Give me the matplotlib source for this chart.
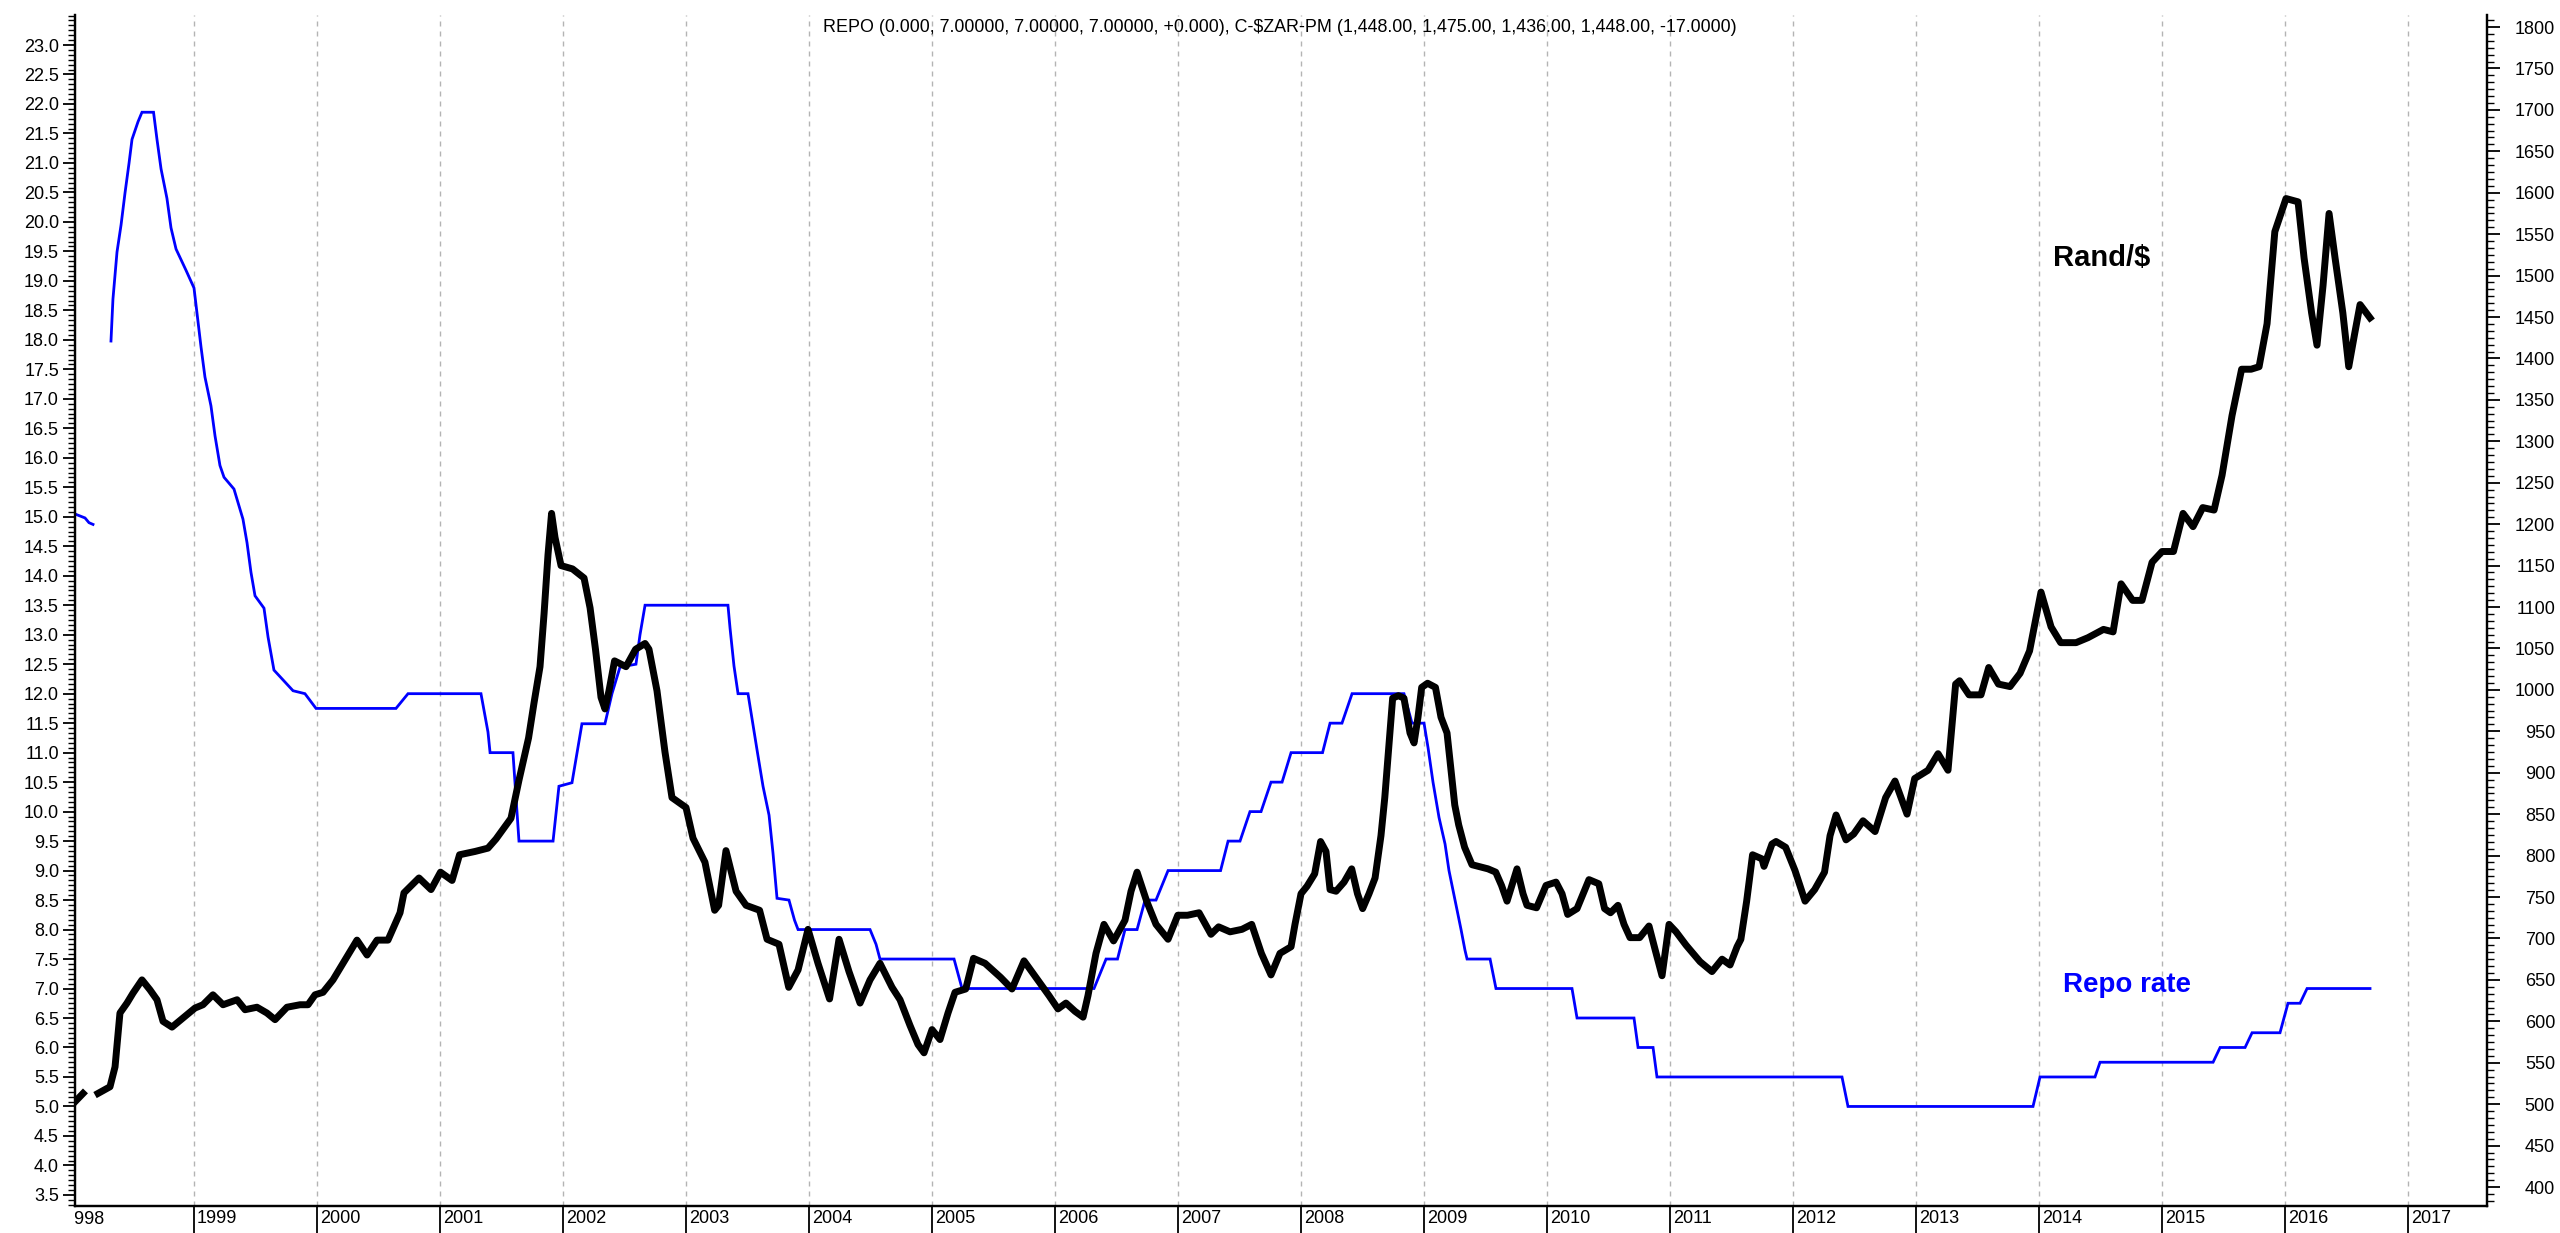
import matplotlib
matplotlib.use('Agg')
import matplotlib.pyplot as plt
import numpy as np
from matplotlib.ticker import MultipleLocator, FixedLocator, FormatStrFormatter
from matplotlib.transforms import ScaledTranslation, Bbox, TransformedBbox

plt.rcParams['font.family'] = ['Liberation Sans', 'DejaVu Sans']
plt.rcParams['lines.scale_dashes'] = False

nan = np.nan

# repo rate (%), left axis; dates as decimal years, nan = gap in the data
repo_t = [1998.041, 1998.114, 1998.146, 1998.179, nan,
          1998.325, 1998.341, 1998.374, 1998.407, 1998.439, 1998.472, 1998.496, 1998.545, 1998.577, 1998.671, 1998.699, 1998.732, 1998.780, 1998.813, 1998.854, 1998.935,
          1999.000, 1999.028, 1999.057, 1999.089, 1999.138, 1999.171, 1999.211, 1999.244, 1999.325, 1999.398, 1999.431, 1999.463, 1999.496, 1999.569, 1999.602, 1999.650, 1999.805, 1999.902, 1999.992,
          2000.642, 2000.740, 2001.333, 2001.390, 2001.407, 2001.593, 2001.642, 2001.919, 2001.967,
          2002.073, 2002.154, 2002.341, 2002.398, 2002.463, 2002.593, 2002.626, 2002.667,
          2003.341, 2003.358, 2003.390, 2003.423, 2003.504, 2003.537, 2003.581, 2003.626, 2003.675, 2003.707, 2003.740, 2003.837, 2003.882, 2003.911,
          2004.496, 2004.545, 2004.577, 2005.179, 2005.244,
          2006.317, 2006.415, 2006.508, 2006.569, 2006.667, 2006.732, 2006.821, 2006.919,
          2007.346, 2007.407, 2007.504, 2007.585, 2007.675, 2007.756, 2007.846, 2007.919,
          2008.175, 2008.236, 2008.333, 2008.415, 2008.837, 2008.902, 2009.000, 2009.033, 2009.073, 2009.122, 2009.171, 2009.203, 2009.252, 2009.301, 2009.333, 2009.350, 2009.537, 2009.585,
          2010.203, 2010.244, 2010.707, 2010.740, 2010.862, 2010.894,
          2012.398, 2012.447, 2013.951, 2014.008, 2014.455, 2014.496, 2015.415, 2015.472, 2015.675, 2015.732, 2015.959, 2016.024, 2016.122, 2016.179, 2016.691]
repo_v = [15.04, 14.98, 14.90, 14.87, nan,
          17.98, 18.69, 19.49, 19.95, 20.49, 21.00, 21.40, 21.70, 21.86, 21.86, 21.40, 20.90, 20.40, 19.90, 19.54, 19.18,
          18.88, 18.39, 17.88, 17.37, 16.88, 16.37, 15.87, 15.67, 15.47, 14.96, 14.56, 14.06, 13.66, 13.45, 12.96, 12.40, 12.05, 12.00, 11.75,
          11.75, 12.00, 12.00, 11.35, 11.00, 11.00, 9.50, 9.50, 10.43,
          10.49, 11.49, 11.49, 12.00, 12.45, 12.50, 13.00, 13.50,
          13.50, 13.11, 12.47, 12.00, 12.00, 11.57, 11.00, 10.43, 9.94, 9.30, 8.53, 8.50, 8.16, 8.00,
          8.00, 7.75, 7.50, 7.50, 7.00,
          7.00, 7.50, 7.50, 8.00, 8.00, 8.50, 8.50, 9.00,
          9.00, 9.50, 9.50, 10.00, 10.00, 10.50, 10.50, 11.00,
          11.00, 11.50, 11.50, 12.00, 12.00, 11.50, 11.50, 11.08, 10.50, 9.90, 9.45, 9.00, 8.50, 8.00, 7.65, 7.50, 7.50, 7.00,
          7.00, 6.50, 6.50, 6.00, 6.00, 5.50,
          5.50, 5.00, 5.00, 5.50, 5.50, 5.75, 5.75, 6.00, 6.00, 6.25, 6.25, 6.75, 6.75, 7.00, 7.00]

# rand per dollar (cents), right axis
rand_t = [1998.033, 1998.098, nan,
          1998.220, 1998.317, 1998.358, 1998.398, 1998.455, 1998.504, 1998.577, 1998.642, 1998.699, 1998.748, 1998.821, 1998.911,
          1999.008, 1999.073, 1999.154, 1999.236, 1999.350, 1999.415, 1999.512, 1999.593, 1999.659, 1999.756, 1999.862, 1999.927, 1999.984,
          2000.049, 2000.130, 2000.244, 2000.325, 2000.407, 2000.488, 2000.577, 2000.675, 2000.707, 2000.829, 2000.927,
          2001.004, 2001.098, 2001.159, 2001.285, 2001.390, 2001.455, 2001.577, 2001.642, 2001.720, 2001.764, 2001.813, 2001.846, 2001.878, 2001.907, 2001.935, 2001.984,
          2002.077, 2002.171, 2002.220, 2002.264, 2002.309, 2002.341, 2002.374, 2002.419, 2002.512, 2002.590, 2002.667, 2002.699, 2002.764, 2002.829, 2002.886,
          2003.000, 2003.057, 2003.154, 2003.233, 2003.265, 2003.325, 2003.407, 2003.488, 2003.598, 2003.659, 2003.756, 2003.835, 2003.911, 2003.992,
          2004.073, 2004.167, 2004.244, 2004.325, 2004.415, 2004.496, 2004.577, 2004.675, 2004.740, 2004.821, 2004.886, 2004.935,
          2005.000, 2005.065, 2005.130, 2005.187, 2005.274, 2005.337, 2005.431, 2005.558, 2005.650, 2005.748, 2005.859, 2005.951,
          2006.024, 2006.089, 2006.163, 2006.228, 2006.268, 2006.333, 2006.398, 2006.476, 2006.569, 2006.618, 2006.667, 2006.745, 2006.821, 2006.919, 2006.998,
          2007.077, 2007.171, 2007.268, 2007.330, 2007.423, 2007.520, 2007.599, 2007.678, 2007.756, 2007.829, 2007.919, 2007.951,
          2008.000, 2008.049, 2008.111, 2008.159, 2008.203, 2008.236, 2008.285, 2008.350, 2008.412, 2008.459, 2008.501, 2008.553, 2008.602, 2008.650, 2008.681, 2008.713, 2008.745, 2008.792, 2008.837, 2008.886, 2008.919, 2008.951, 2008.981,
          2009.029, 2009.093, 2009.138, 2009.187, 2009.220, 2009.250, 2009.282, 2009.330, 2009.390, 2009.520, 2009.583, 2009.630, 2009.675, 2009.756, 2009.805, 2009.837, 2009.915, 2009.992,
          2010.073, 2010.122, 2010.168, 2010.244, 2010.341, 2010.421, 2010.468, 2010.516, 2010.577, 2010.626, 2010.675, 2010.753, 2010.829, 2010.878, 2010.935, 2010.992,
          2011.049, 2011.130, 2011.244, 2011.341, 2011.423, 2011.488, 2011.545, 2011.576, 2011.623, 2011.671, 2011.748, 2011.764, 2011.829, 2011.862, 2011.940,
          2012.016, 2012.098, 2012.176, 2012.256, 2012.301, 2012.350, 2012.431, 2012.493, 2012.569, 2012.667, 2012.753, 2012.829, 2012.927, 2012.989,
          2013.098, 2013.179, 2013.260, 2013.322, 2013.354, 2013.431, 2013.528, 2013.591, 2013.670, 2013.764, 2013.846, 2013.923,
          2014.016, 2014.098, 2014.176, 2014.301, 2014.398, 2014.524, 2014.602, 2014.667, 2014.761, 2014.837, 2014.919,
          2015.000, 2015.093, 2015.171, 2015.252, 2015.331, 2015.423, 2015.488, 2015.569, 2015.647, 2015.724, 2015.789, 2015.854, 2015.917,
          2016.008, 2016.106, 2016.155, 2016.216, 2016.260, 2016.309, 2016.358, 2016.407, 2016.470, 2016.518, 2016.565, 2016.610, 2016.691]
rand_v = [503, 513, nan,
          513, 521, 545, 610, 622, 634, 650, 638, 626, 600, 593, 604,
          616, 620, 632, 620, 626, 614, 617, 610, 602, 617, 620, 620, 632,
          635, 650, 678, 698, 680, 698, 698, 731, 755, 773, 759,
          780, 770, 801, 805, 809, 820, 845, 891, 942, 984, 1028, 1092, 1163, 1213, 1184, 1150,
          1146, 1135, 1099, 1049, 991, 977, 999, 1035, 1028, 1049, 1056, 1049, 999, 925, 870,
          858, 821, 792, 734, 740, 806, 757, 740, 734, 699, 693, 641, 662, 711,
          670, 627, 699, 660, 622, 650, 670, 641, 626, 595, 572, 562,
          590, 578, 610, 635, 639, 676, 670, 653, 639, 673, 650, 631,
          615, 622, 612, 605, 631, 682, 717, 697, 722, 757, 780, 745, 717, 699, 728,
          728, 731, 705, 714, 708, 711, 717, 682, 656, 682, 690, 717,
          754, 763, 778, 817, 805, 759, 757, 768, 784, 754, 736, 754, 773, 824, 870, 930, 990, 993, 990, 948, 936, 967, 1003,
          1008, 1003, 967, 948, 902, 861, 837, 810, 789, 784, 780, 764, 745, 784, 754, 740, 737, 764,
          768, 754, 729, 736, 771, 766, 736, 731, 740, 717, 701, 701, 715, 687, 655, 717,
          708, 692, 672, 660, 675, 668, 690, 699, 745, 801, 796, 787, 814, 817, 810,
          782, 745, 759, 780, 824, 849, 819, 826, 842, 829, 870, 890, 850, 893,
          903, 923, 903, 1007, 1011, 994, 994, 1027, 1007, 1004, 1020, 1047,
          1118, 1076, 1057, 1057, 1063, 1073, 1070, 1128, 1108, 1108, 1154,
          1167, 1167, 1213, 1197, 1220, 1217, 1259, 1331, 1387, 1387, 1390, 1442, 1553,
          1593, 1589, 1521, 1455, 1416, 1488, 1575, 1521, 1455, 1390, 1429, 1465, 1449]

years = list(range(1999, 2018))
year_labels = [str(y) for y in years]
left_ticks = np.arange(3.5, 23.01, 0.5)
right_ticks = np.arange(400, 1801, 50)

title = ('REPO (0.000, 7.00000, 7.00000, 7.00000, +0.000), '
         'C-\\$ZAR-PM (1,448.00, 1,475.00, 1,436.00, 1,448.00, -17.0000)')

W, H = 2560, 1233
fig = plt.figure(figsize=(W / 100, H / 100), dpi=100)
ax = fig.add_axes([75 / W, 27 / H, (2487 - 75) / W, (1206 - 15) / H])

ax.plot(repo_t, repo_v, color='#0000ff', lw=2.0, solid_joinstyle='miter')
ax.set_xlim(1998.0325, 2017.642)
ax.set_ylim(3.312, 23.509)

ax2 = ax.twinx()
ax2.plot(rand_t, rand_v, color='black', lw=5.0, solid_joinstyle='round')
ax2.set_ylim(377.1, 1814.5)

for a in (ax, ax2):
    a.spines['top'].set_visible(False)
    for s in ('left', 'right', 'bottom'):
        a.spines[s].set_linewidth(1.6)

# x axis: year ticks, labels to the right of the tick
ax.set_xticks(years)
ax.set_xticklabels(year_labels)
ax.tick_params(axis='x', length=19.4, width=1.3, pad=-16.5, labelsize=13)
off = ScaledTranslation(3 / 100, 0, fig.dpi_scale_trans)
for lab in ax.get_xticklabels():
    lab.set_horizontalalignment('left')
    lab.set_transform(lab.get_transform() + off)
ax.grid(axis='x', color='#b4b4b4', linestyle=(0, (3.6, 3.6)), linewidth=1.0)

# the 1998 label is cut off at the left edge
t98 = fig.text(0, 0, '1998', fontsize=13, ha='left', va='top',
               transform=ax.transAxes + ScaledTranslation(-10 / 100, -5 / 100, fig.dpi_scale_trans))
t98.set_clip_box(TransformedBbox(Bbox([[0, -0.1], [1, 1]]), ax.transAxes))
t98.set_clip_on(True)

# left axis
ax.yaxis.set_major_locator(FixedLocator(left_ticks))
ax.yaxis.set_major_formatter(FormatStrFormatter('%.1f'))
ax.yaxis.set_minor_locator(MultipleLocator(0.5 / 6))
ax.tick_params(axis='y', which='major', length=8.6, width=1.3, pad=3, labelsize=13)
ax.tick_params(axis='y', which='minor', length=5, width=1.0)

# right axis
ax2.yaxis.set_major_locator(FixedLocator(right_ticks))
ax2.yaxis.set_major_formatter(FormatStrFormatter('%d'))
ax2.yaxis.set_minor_locator(MultipleLocator(50 / 6))
ax2.tick_params(axis='y', which='major', length=9.4, width=1.3, pad=39.6, labelsize=13)
ax2.tick_params(axis='y', which='minor', length=5, width=1.0)
for lab in ax2.get_yticklabels():
    lab.set_horizontalalignment('right')

ax2.text(2014.512, 1521, 'Rand/\\$', ha='center', va='center', fontsize=21,
         fontweight='bold', color='black')
ax.text(2014.716, 7.06, 'Repo rate', ha='center', va='center', fontsize=20,
        fontweight='bold', color='#0000ff')

tt = fig.text(0.5, 1 - 28 / H, title, ha='center', va='center', fontsize=12)
fig.canvas.draw()
w = tt.get_window_extent().width
tt.set_fontsize(12 * 911 / w)

fig.savefig('out.png', dpi=100)
